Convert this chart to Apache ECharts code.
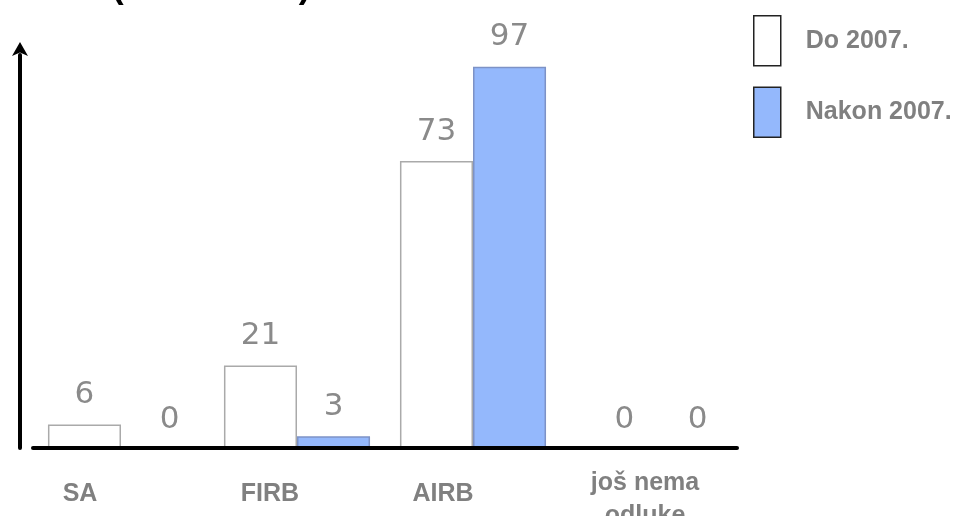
<!DOCTYPE html>
<html>
<head>
<meta charset="utf-8">
<script src="https://cdn.jsdelivr.net/npm/echarts@6/dist/echarts.min.js"></script>
<style>
html,body{margin:0;padding:0;background:#fff;}
#chart{width:960px;height:516px;}
</style>
</head>
<body>
<div id="chart"></div>
<script>
const categories = ['SA', 'FIRB', 'AIRB', 'još nema\nodluke'];
const seriesNames = ['Do 2007.', 'Nakon 2007.'];
const doValues = [6, 21, 73, 0];
const nakonValues = [0, 3, 97, 0];

const labelShift = ['s1', 's2', 's3', 's4'];
const FONT = 'Liberation Sans, Arial, sans-serif';

// zero-value labels sit slightly right of the bar centre in the reference
function withZeroOffset(arr) {
  return arr.map(function (v) {
    return v === 0 ? { value: v, label: { offset: [12, 2] } } : v;
  });
}

const chart = echarts.init(document.getElementById('chart'));
const valueLabel = {
  show: true, position: 'top', distance: 14,
  color: '#8a8a8a', fontSize: 31, fontFamily: 'DejaVu Sans, sans-serif'
};
const catStyle = { color: '#808080', fontSize: 25, fontWeight: 'bold', fontFamily: FONT };
chart.setOption({
  animation: false,
  backgroundColor: '#fff',
  title: {
    text: '(                  )',
    left: 107, top: -34,
    textStyle: { fontSize: 35, fontWeight: 'bold', color: '#000', fontFamily: FONT }
  },
  legend: {
    orient: 'vertical', left: 753, top: 15, padding: 0,
    itemWidth: 27, itemHeight: 50, itemGap: 20,
    icon: 'rect',
    data: [
      { name: seriesNames[0], itemStyle: { color: '#fff', borderColor: '#222', borderWidth: 1.5 } },
      { name: seriesNames[1], itemStyle: { color: '#94b8fc', borderColor: '#222', borderWidth: 1.5 } }
    ],
    textStyle: { color: '#808080', fontSize: 25, fontWeight: 'bold', padding: [0, 0, 0, 20], fontFamily: FONT }
  },
  grid: { left: 33, right: 223, top: 55, bottom: 68, outerBoundsMode: 'none', containLabel: false },
  xAxis: {
    type: 'category', data: categories, z: 5,
    axisLine: { show: true, lineStyle: { color: '#000', width: 4 } },
    axisTick: { show: false },
    axisLabel: {
      interval: 0, margin: 46, verticalAlign: 'middle',
      formatter: function (v, i) { return '{' + labelShift[i] + '|' + v + '}'; },
      rich: {
        s1: Object.assign({ padding: [0, 82, 0, 0] }, catStyle),
        s2: Object.assign({ padding: [0, 54, 0, 0] }, catStyle),
        s3: Object.assign({ padding: [0, 60, 0, 0] }, catStyle),
        s4: Object.assign({ padding: [12, 8, 0, 0], lineHeight: 33 }, catStyle)
      }
    }
  },
  yAxis: {
    type: 'value', min: 0, max: 100, offset: 13,
    splitLine: { show: false },
    axisLabel: { show: false },
    axisTick: { show: false },
    axisLine: { show: true, symbol: ['none', 'arrow'], symbolSize: [12, 14], symbolOffset: [0, 13], lineStyle: { color: '#000', width: 4 } }
  },
  series: [
    {
      name: seriesNames[0], type: 'bar', data: withZeroOffset(doValues),
      barGap: '0%', barCategoryGap: '17%',
      itemStyle: { color: '#fff', borderColor: '#aaaaaa', borderWidth: 1.5 },
      label: valueLabel
    },
    {
      name: seriesNames[1], type: 'bar', data: withZeroOffset(nakonValues),
      itemStyle: { color: '#94b8fc', borderColor: '#7d92c6', borderWidth: 1.5 },
      label: valueLabel
    }
  ]
});
</script>
</body>
</html>
